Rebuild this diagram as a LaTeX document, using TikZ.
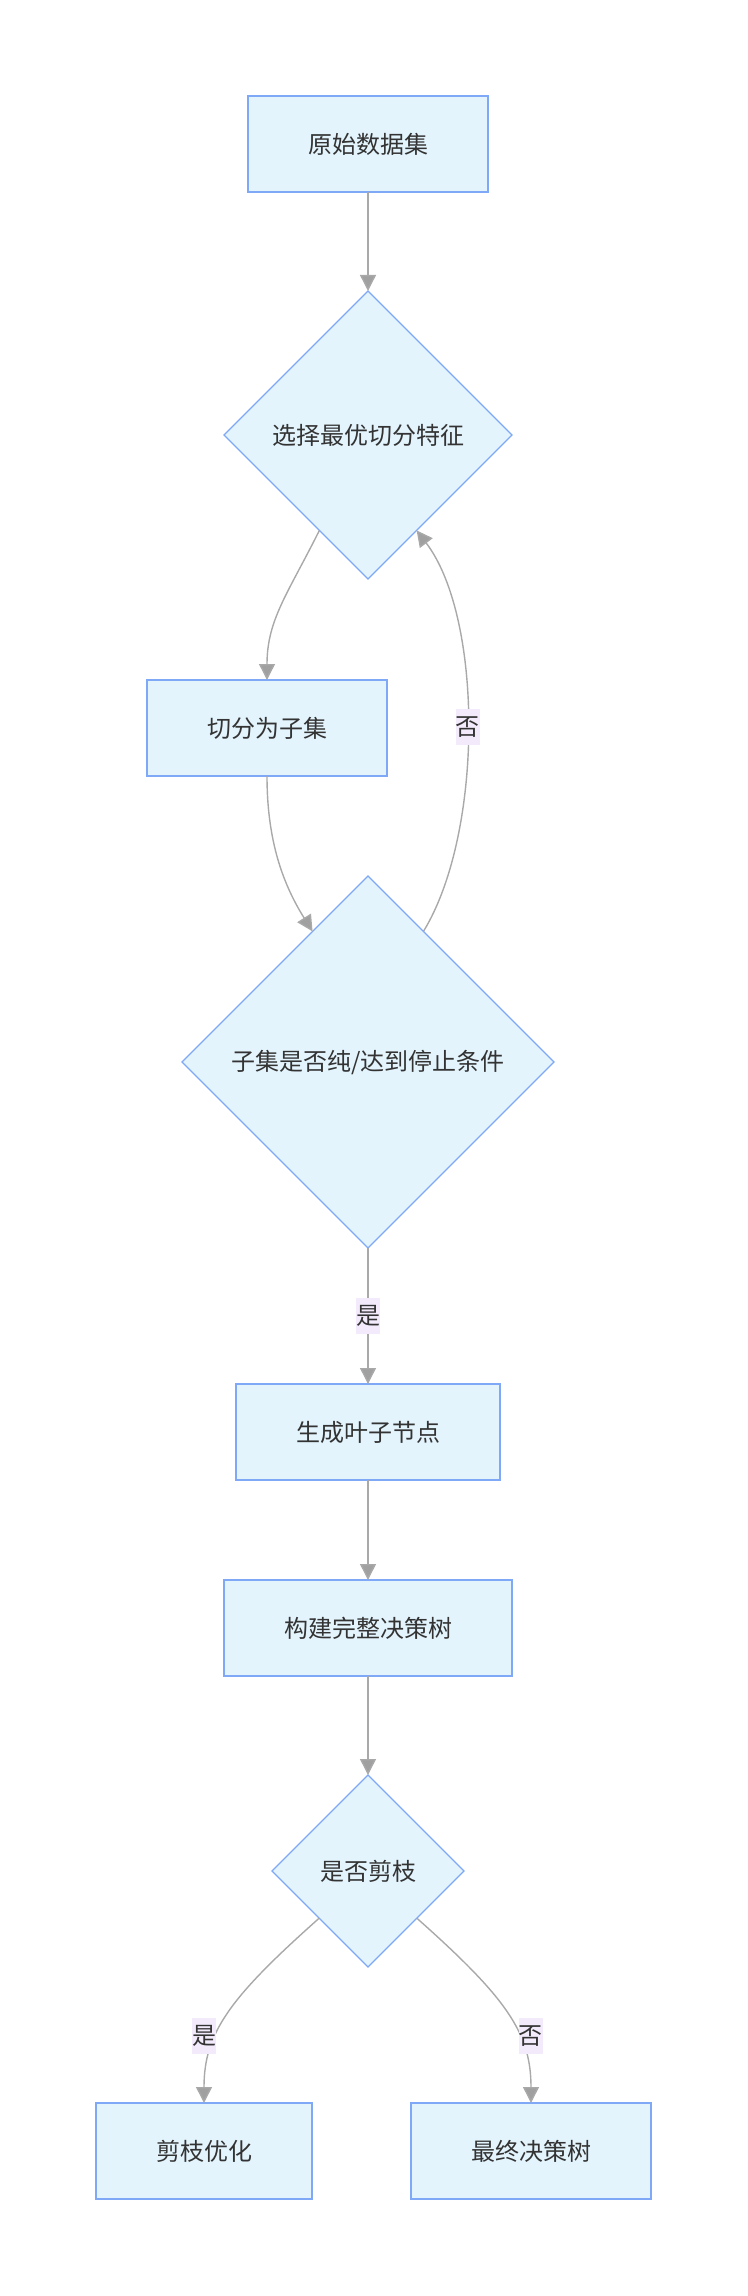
\documentclass[tikz,border=0pt]{standalone}
\usepackage{fontspec}
\setmainfont{Noto Sans CJK SC}
\usetikzlibrary{arrows.meta, positioning, shapes.geometric}
\definecolor{flowFill}{HTML}{E3F4FD}
\definecolor{flowEdge}{HTML}{7FA8F6}
\definecolor{flowLine}{HTML}{A9A9A9}
\definecolor{flowTip}{HTML}{A0A0A0}
\definecolor{flowText}{HTML}{333333}
\definecolor{flowLabel}{HTML}{F3EAFB}

\begin{document}
\begin{tikzpicture}[
      x=0.5pt, y=-0.5pt,
      every node/.style={font=\fontsize{12}{14}\selectfont, text=flowText},
      box/.style={draw=flowEdge, line width=0.8pt, fill=flowFill, align=center,
                  minimum height=48pt, inner xsep=30pt, inner ysep=0pt, outer sep=0pt},
      decision/.style={diamond, aspect=1, draw=flowEdge, line width=0.6pt, fill=flowFill,
                       inner sep=0pt, outer sep=0pt, align=center},
      arr/.style={-{Triangle[length=8pt, width=8pt, fill=flowTip]}, line width=0.7pt, draw=flowLine},
      elabel/.style={fill=flowLabel, inner xsep=0pt, inner ysep=0pt, minimum height=18pt}
    ]
    \useasboundingbox (0,0) rectangle (748,2296);

    % --- main column ---
    \node[box] (data) at (368,144) {原始数据集};
    \node[decision, minimum size=144pt, below=49.5pt of data] (select) {选择最优切分特征};
    \node[box, below=50.5pt of select, xshift=-50.5pt] (split) {切分为子集};
    \node[decision, minimum size=186pt, below=50pt of split, xshift=50.5pt] (check) {子集是否纯/达到停止条件};
    \node[box, below=68pt of check] (leaf) {生成叶子节点};
    \node[box, below=50pt of leaf] (build) {构建完整决策树};
    \node[decision, minimum size=96pt, below=49.5pt of build] (prune) {是否剪枝};

    % --- outcomes ---
    \node[box, below=68pt of prune, xshift=-82pt] (popt) {剪枝优化};
    \node[box, below=68pt of prune, xshift=81.5pt] (final) {最终决策树};

    \draw[arr] (data) -- (select);
    \draw[arr] (select.-117) .. controls +(-32,64) and +(0,-60) .. (split.north);
    \draw[arr] (split.south) .. controls +(0,60) and +(-32,-51) .. (check.113);
    \draw[arr] (check.67) .. controls +(60,-98) and +(67,88) .. node[elabel] {否} (select.-63);
    \draw[arr] (check) -- node[elabel] {是} (leaf);
    \draw[arr] (leaf) -- (build);
    \draw[arr] (build) -- (prune);
    \draw[arr] (prune.-136) .. controls +(-90,80) and +(0,-70) .. node[elabel, pos=0.63, xshift=-6pt] {是} (popt.north);
    \draw[arr] (prune.-44) .. controls +(90,80) and +(0,-70) .. node[elabel, pos=0.63, xshift=6pt] {否} (final.north);
  \end{tikzpicture}
\end{document}
